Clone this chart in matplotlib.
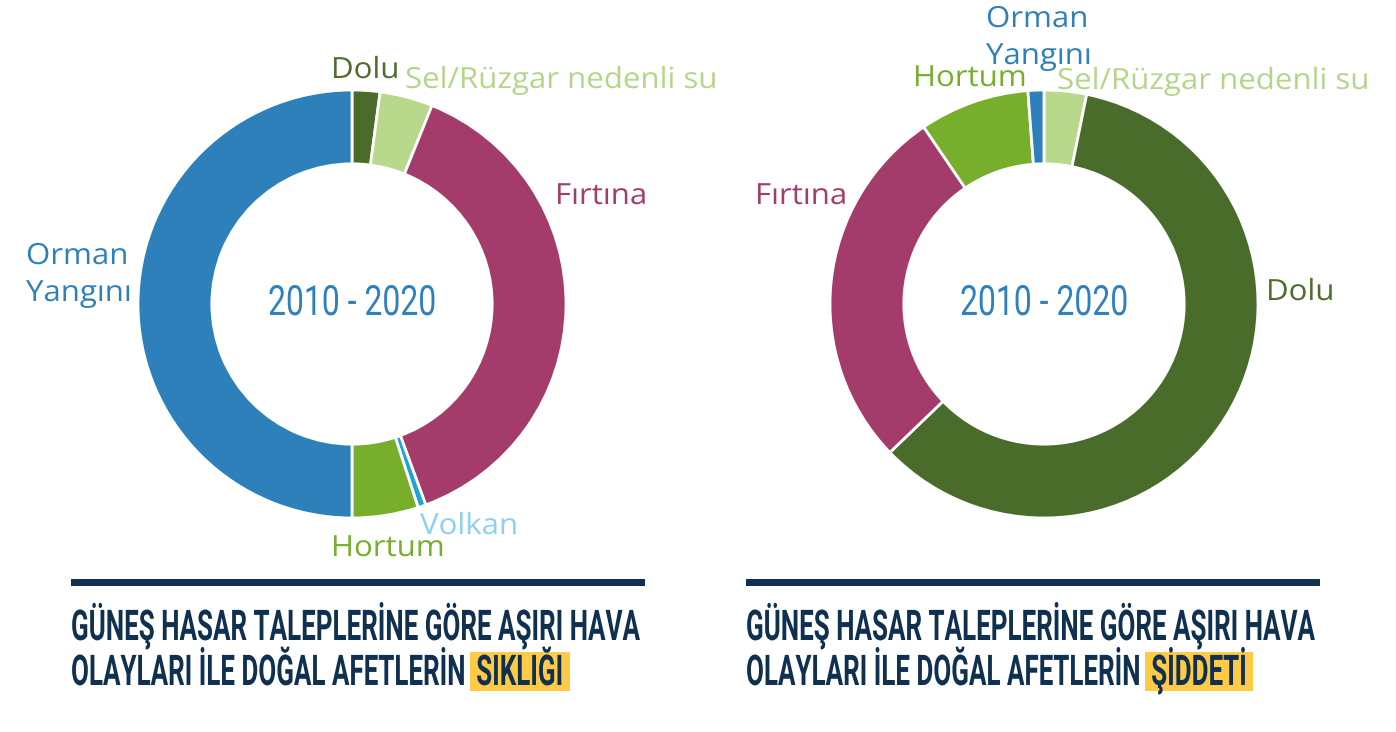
import matplotlib
matplotlib.use('Agg')
import matplotlib.pyplot as plt
from matplotlib.patches import Rectangle
from matplotlib.transforms import Affine2D
from matplotlib import patheffects

W, H = 1396, 732

# data, clockwise from 12 o'clock
left_labels = ['Dolu', 'Sel/Rüzgar nedenli su', 'Fırtına', 'Volkan', 'Hortum', 'Orman Yangını']
left_values = [2.1, 4.0, 38.3, 0.6, 5.0, 50.0]
right_labels = ['Sel/Rüzgar nedenli su', 'Dolu', 'Fırtına', 'Hortum', 'Orman Yangını']
right_values = [3.2, 59.6, 27.7, 8.3, 1.2]
period = '2010 - 2020'
title_line1 = 'GÜNEŞ HASAR TALEPLERİNE GÖRE AŞIRI HAVA'
title_line2 = 'OLAYLARI İLE DOĞAL AFETLERİN'
left_word = 'SIKLIĞI'
right_word = 'ŞİDDETİ'

wedge_colors = {'Dolu': '#4a6c2b', 'Sel/Rüzgar nedenli su': '#b8d88b', 'Fırtına': '#a33b6b',
                'Volkan': '#1ea3da', 'Hortum': '#77af2d', 'Orman Yangını': '#2e80ba'}
text_colors = {'Dolu': '#4e6e2e', 'Sel/Rüzgar nedenli su': '#b5d68a', 'Fırtına': '#a33b6b',
               'Volkan': '#8fd0ee', 'Hortum': '#76ae2e', 'Orman Yangını': '#2e80ba'}
navy = '#0f3050'

# label placement: left x, first baseline (pixels from top-left)
left_pos = {'Dolu': (331, 78), 'Sel/Rüzgar nedenli su': (405, 88), 'Fırtına': (555, 204),
            'Volkan': (420, 534), 'Hortum': (331, 556), 'Orman Yangını': (26, 264)}
right_pos = {'Sel/Rüzgar nedenli su': (1057, 89), 'Dolu': (1266, 300), 'Fırtına': (755, 204),
             'Hortum': (913, 86), 'Orman Yangını': (986, 27)}


class Tall(patheffects.AbstractPathEffect):
    # vertical scale of the glyphs about the baseline
    def __init__(self, sy):
        super().__init__()
        self.sy = sy

    def draw_path(self, renderer, gc, tpath, affine, rgbFace=None):
        renderer.draw_path(gc, tpath, Affine2D().scale(1, self.sy) + affine, rgbFace)


def fx(x):
    return x / W


def fy(y):
    return 1 - y / H


fig = plt.figure(figsize=(W / 100, H / 100), dpi=100)
fig.patch.set_facecolor('white')
renderer = fig.canvas.get_renderer()


def scaled(x, y, s, size, width=None, sx=None, **kw):
    # text of height `size`, with its width scaled by sx (or fitted to `width`)
    t = fig.text(fx(x), fy(y), s, ha='left', va='baseline', zorder=3, fontsize=size, **kw)
    w = t.get_window_extent(renderer).width
    if sx is None:
        sx = width / w
    t.set_fontsize(size * sx)
    t.set_path_effects([Tall(1 / sx)])
    return w * sx, sx


R, CY, PAD = 214, 304, 1.02


def donut(cx, labels, values, pos):
    ax = fig.add_axes([fx(cx - R * PAD), fy(CY + R * PAD), 2 * R * PAD / W, 2 * R * PAD / H])
    ax.pie(values, colors=[wedge_colors[l] for l in labels], startangle=90, counterclock=False,
           radius=1, wedgeprops=dict(width=0.345, edgecolor='white', linewidth=2))
    ax.set_xlim(-PAD, PAD)
    ax.set_ylim(-PAD, PAD)
    ax.set_aspect('equal')
    ax.axis('off')
    for lab in labels:
        x, y = pos[lab]
        lines = lab.split(' ') if lab == 'Orman Yangını' else [lab]
        for i, line in enumerate(lines):
            scaled(x, y + 37 * i, line, 21, sx=1.07, family='Open Sans',
                   color=text_colors[lab])
    scaled(cx - 84, 315, period, 30, width=168, family='Roboto', color='#2f80bd')


donut(352, left_labels, left_values, left_pos)
donut(1044, right_labels, right_values, right_pos)


def title(x0, x1, word):
    fig.add_artist(Rectangle((fx(x0), fy(586)), (x1 + 4 - x0) / W, 7 / H,
                             transform=fig.transFigure, color=navy, lw=0))
    _, sx = scaled(x0, 640, title_line1, 30.5, width=x1 - x0,
                   family='Roboto', weight='bold', color=navy)
    w2, _ = scaled(x0, 685, title_line2, 30.5, sx=sx,
                   family='Roboto', weight='bold', color=navy)
    wx = x0 + w2 + 10
    w3, _ = scaled(wx, 685, word, 30.5, sx=sx,
                   family='Roboto', weight='bold', color=navy)
    fig.add_artist(Rectangle((fx(wx - 6), fy(691)), (w3 + 12) / W, 39 / H,
                             transform=fig.transFigure, color='#ffcb47', lw=0, zorder=1))


title(71, 641, left_word)
title(746, 1316, right_word)

fig.savefig('out.png', dpi=100, facecolor='white')
